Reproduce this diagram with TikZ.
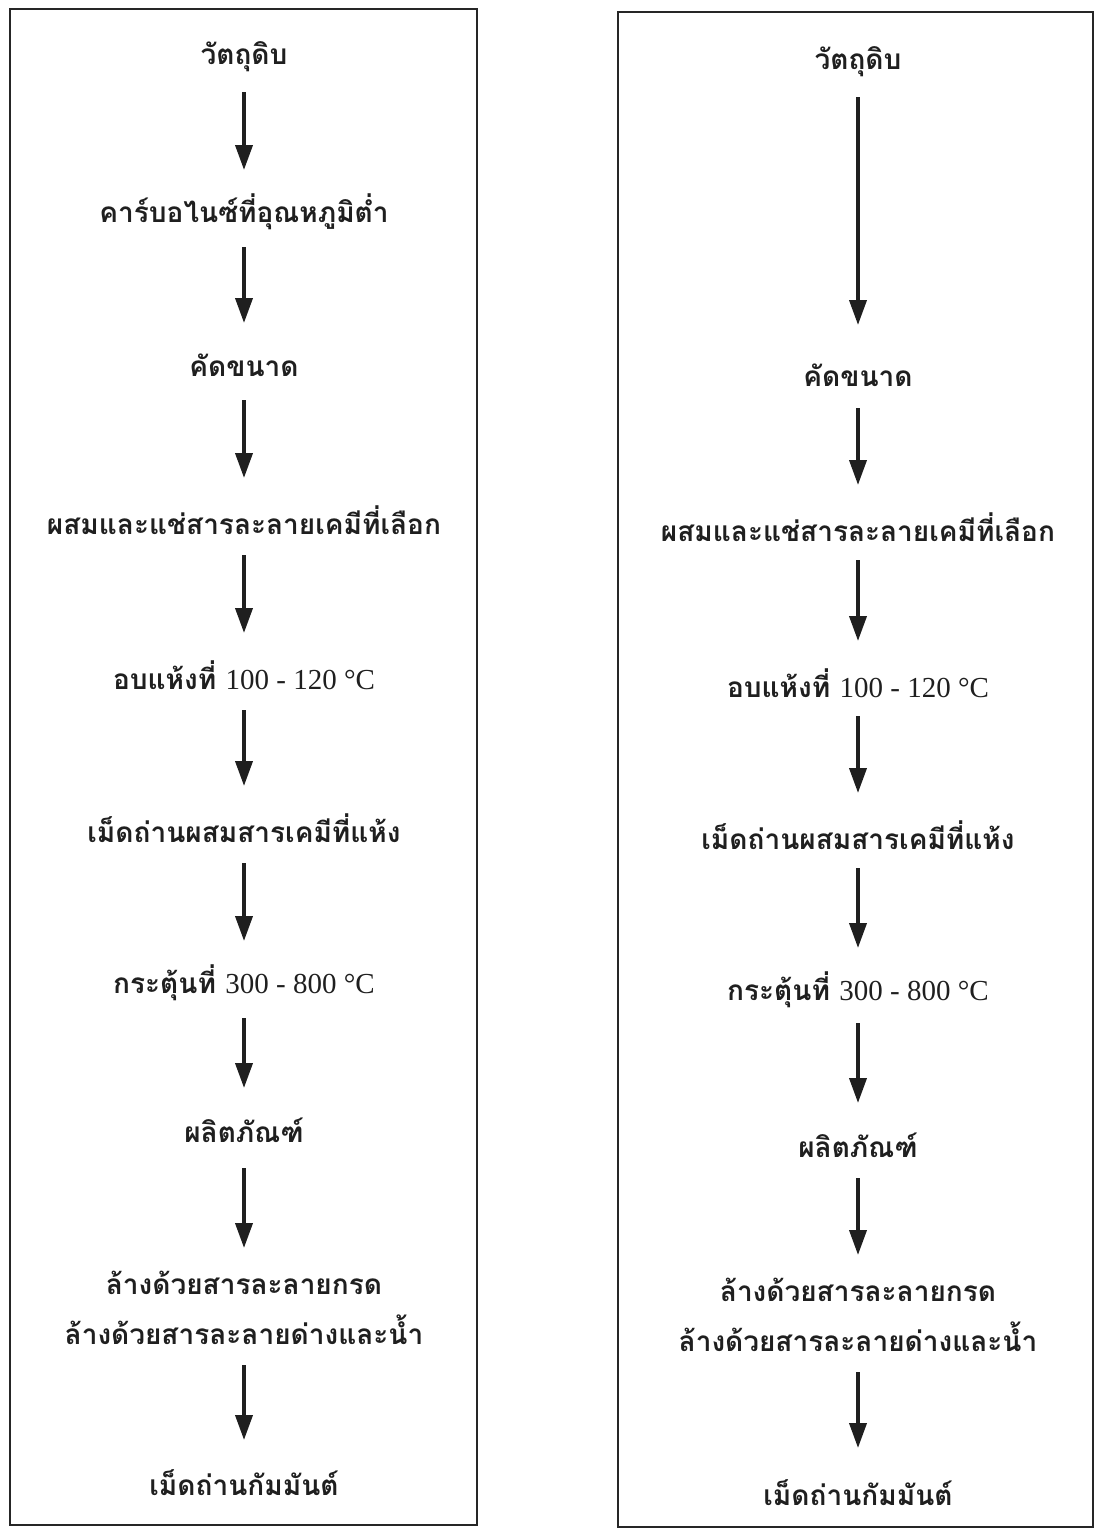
\documentclass[tikz,border=0pt]{standalone}
\usepackage{fontspec}
\newfontfamily\thai[Script=Thai]{Loma}
\newfontfamily\lat{Liberation Serif}
\usetikzlibrary{arrows.meta}
\begin{document}
\begin{tikzpicture}[x=1pt,y=-1pt,
  lbl/.style={font=\thai\bfseries\fontsize{28}{50}\selectfont, inner sep=0pt, align=center, text=black!88},
  num/.style={},
  flow/.style={line width=3.8pt, draw=black!88, -{Triangle[width=17pt,length=25pt]}},
  frame/.style={draw=black!85, line width=1.8pt}]
\useasboundingbox (0,0) rectangle (1096,1528);

% frames of the two process charts
\draw[frame] (10,9) rectangle (477,1525);
\draw[frame] (618,12) rectangle (1093,1527);

% left chart
\node[lbl] (a1) at (244,57)   {วัตถุดิบ};
\node[lbl] (a2) at (244,212)  {คาร์บอไนซ์ที่อุณหภูมิต่ำ};
\node[lbl] (a3) at (244,365)  {คัดขนาด};
\node[lbl] (a4) at (244,520)  {ผสมและแช่สารละลายเคมีที่เลือก};
\node[lbl] (a5) at (244,675)  {อบแห้งที่ {\lat\mdseries\fontsize{29}{50}\selectfont 100 - 120 °C}};
\node[lbl] (a6) at (244,828)  {เม็ดถ่านผสมสารเคมีที่แห้ง};
\node[lbl] (a7) at (244,983)  {กระตุ้นที่ {\lat\mdseries\fontsize{29}{50}\selectfont 300 - 800 °C}};
\node[lbl] (a8) at (244,1130) {ผลิตภัณฑ์};
\node[lbl] (a9) at (244,1308) {ล้างด้วยสารละลายกรด\\ล้างด้วยสารละลายด่างและน้ำ};
\node[lbl] (a10) at (244,1483) {เม็ดถ่านกัมมันต์};

\foreach \p/\q in {a1/a2,a2/a3,a3/a4,a4/a5,a5/a6,a6/a7,a7/a8}
  \draw[flow] ([yshift=-35pt]\p.center) -- ([yshift=42pt]\q.center);
\draw[flow] ([yshift=-38pt]a8.center) -- ([yshift=60pt]a9.center);
\draw[flow] ([yshift=-57pt]a9.center) -- ([yshift=43pt]a10.center);

% right chart
\node[lbl] (b1) at (858,62)   {วัตถุดิบ};
\node[lbl] (b3) at (858,375)  {คัดขนาด};
\node[lbl] (b4) at (858,527)  {ผสมและแช่สารละลายเคมีที่เลือก};
\node[lbl] (b5) at (858,683)  {อบแห้งที่ {\lat\mdseries\fontsize{29}{50}\selectfont 100 - 120 °C}};
\node[lbl] (b6) at (858,835)  {เม็ดถ่านผสมสารเคมีที่แห้ง};
\node[lbl] (b7) at (858,990)  {กระตุ้นที่ {\lat\mdseries\fontsize{29}{50}\selectfont 300 - 800 °C}};
\node[lbl] (b8) at (858,1145) {ผลิตภัณฑ์};
\node[lbl] (b9) at (858,1315) {ล้างด้วยสารละลายกรด\\ล้างด้วยสารละลายด่างและน้ำ};
\node[lbl] (b10) at (858,1493) {เม็ดถ่านกัมมันต์};

\draw[flow] ([yshift=-35pt]b1.center) -- ([yshift=50pt]b3.center);
\foreach \p/\q in {b3/b4,b4/b5,b5/b6,b6/b7,b7/b8}
  \draw[flow] ([yshift=-33pt]\p.center) -- ([yshift=42pt]\q.center);
\draw[flow] ([yshift=-33pt]b8.center) -- ([yshift=60pt]b9.center);
\draw[flow] ([yshift=-57pt]b9.center) -- ([yshift=45pt]b10.center);
\end{tikzpicture}
\end{document}
